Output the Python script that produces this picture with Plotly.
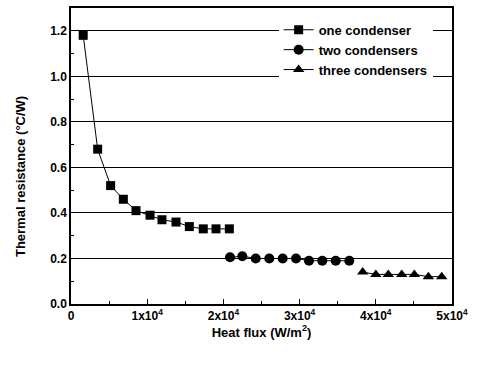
import plotly.graph_objects as go

one_x = [1600, 3500, 5200, 6870, 8530, 10370, 11940, 13780, 15530, 17360, 19030, 20780]
one_y = [1.18, 0.68, 0.52, 0.46, 0.41, 0.39, 0.37, 0.36, 0.34, 0.33, 0.33, 0.33]

two_x = [20870, 22480, 24240, 26020, 27780, 29530, 31230, 32980, 34740, 36520]
two_y = [0.205, 0.21, 0.2, 0.2, 0.2, 0.2, 0.19, 0.19, 0.19, 0.19]

three_x = [38280, 40000, 41640, 43400, 45060, 46900, 48650]
three_y = [0.14, 0.13, 0.13, 0.13, 0.13, 0.12, 0.12]

x_tickvals = [0, 10000, 20000, 30000, 40000, 50000]
x_ticktext = ["0", "1x10<sup>4</sup>", "2x10<sup>4</sup>", "3x10<sup>4</sup>",
              "4x10<sup>4</sup>", "5x10<sup>4</sup>"]
y_tickvals = [0.0, 0.2, 0.4, 0.6, 0.8, 1.0, 1.2]
y_ticktext = ["0.0", "0.2", "0.4", "0.6", "0.8", "1.0", "1.2"]

FONT = "Liberation Sans, Arial"
tickfont = dict(family=FONT, size=12, color="black", weight="bold")
titlefont = dict(family=FONT, size=13, color="black", weight="bold")

fig = go.Figure()
fig.add_trace(go.Scatter(x=one_x, y=one_y, mode="lines+markers", name="one condenser",
                         line=dict(color="black", width=1),
                         marker=dict(symbol="square", size=9, color="black")))
fig.add_trace(go.Scatter(x=two_x, y=two_y, mode="lines+markers", name="two condensers",
                         line=dict(color="black", width=1),
                         marker=dict(symbol="circle", size=10, color="black")))
fig.add_trace(go.Scatter(x=three_x, y=three_y, mode="lines+markers", name="three condensers",
                         line=dict(color="black", width=1),
                         marker=dict(symbol="triangle-up", size=10, color="black")))

fig.update_layout(
    width=477, height=366,
    margin=dict(l=71, r=25, t=6, b=62),
    paper_bgcolor="white", plot_bgcolor="white",
    font=dict(family=FONT, size=12, color="black"),
    showlegend=True,
    legend=dict(x=0.545, y=0.977, xanchor="left", yanchor="top",
                bgcolor="white", borderwidth=0,
                font=dict(family=FONT, size=13, color="black", weight="bold"),
                tracegroupgap=0),
    xaxis=dict(range=[0, 50000], tickmode="array", tickvals=x_tickvals, ticktext=x_ticktext,
               ticks="inside", ticklen=5, tickcolor="black", showgrid=False,
               showline=True, linecolor="black", linewidth=1.5, mirror=True, zeroline=False,
               minor=dict(dtick=5000, tick0=0, ticks="inside", ticklen=3, tickcolor="black", showgrid=False),
               title=dict(text="Heat flux (W/m<sup>2</sup>)", font=titlefont, standoff=0),
               tickfont=tickfont),
    yaxis=dict(range=[0, 1.3], tickmode="array", tickvals=y_tickvals, ticktext=y_ticktext,
               ticks="inside", ticklen=5, tickcolor="black",
               showgrid=True, gridcolor="black", gridwidth=1,
               showline=True, linecolor="black", linewidth=1.5, mirror=True, zeroline=False,
               minor=dict(dtick=0.1, tick0=0, ticks="inside", ticklen=3, tickcolor="black", showgrid=False),
               tickfont=tickfont),
    annotations=[dict(text="Thermal resistance (°C/W)", textangle=-90,
                      xref="paper", yref="paper", x=-0.133, y=0.43,
                      xanchor="center", yanchor="middle", showarrow=False, font=titlefont)],
)

fig.write_html("out.html")
